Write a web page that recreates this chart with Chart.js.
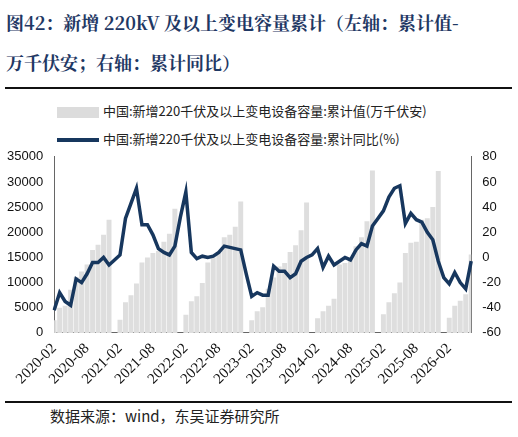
<!DOCTYPE html>
<html><head><meta charset="utf-8">
<script src="https://cdn.jsdelivr.net/npm/chart.js@4/dist/chart.umd.min.js"></script>
<style>
body{margin:0;width:518px;height:437px;background:#fff;position:relative;overflow:hidden;font-family:"Noto Sans CJK SC",serif}
#title{position:absolute;left:6px;top:2px;width:510px;font-size:18px;font-weight:bold;color:#1f3864;line-height:40px;font-family:"Noto Serif CJK SC","Noto Sans CJK SC",serif}
.rule{position:absolute;left:5px;width:507px;height:2px;background:#111}
#legend{position:absolute;left:57px;top:97px;font-size:13px;color:#222;line-height:28px;font-family:"Noto Sans CJK SC"}
.sw{display:inline-block;width:42px;vertical-align:middle;margin-right:4px}
#src{position:absolute;left:50px;top:405px;font-size:15px;color:#222}
#wrap{position:absolute;left:0;top:146px;width:518px;height:245px}
</style></head><body>
<div id="title">图42：新增 220kV 及以上变电容量累计（左轴：累计值-<br>万千伏安；右轴：累计同比）</div>
<div class="rule" style="top:87px"></div>
<div id="legend">
<div><span class="sw" style="height:11px;background:#dcdcdc"></span>中国:新增220千伏及以上变电设备容量:累计值(万千伏安)</div>
<div><span class="sw" style="height:4px;background:#17375e"></span>中国:新增220千伏及以上变电设备容量:累计同比(%)</div>
</div>
<div id="wrap"><canvas id="c" width="518" height="245"></canvas></div>
<div class="rule" style="top:401px"></div>
<div id="src">数据来源：wind，东吴证券研究所</div>
<script>
// months 2020-02 .. 2026-06
const months = [];
for (let y = 2020; y <= 2026; y++) for (let m = 1; m <= 12; m++) {
  if ((y === 2020 && m < 2) || (y === 2026 && m > 6)) continue;
  months.push(y + '-' + String(m).padStart(2, '0'));
}
// cumulative value, 万千伏安 (null = January, no release)
const cumValue = [
  2500, 5000, 5400, 8600, 11100, 12200, 13600, 16500, 17500, 19500, 22500, null,
  2600, 6100, 7500, 9800, 14000, 15000, 15900, 16300, 18100, 19700, 24700, null,
  3600, 6300, 7300, 9900, 14000, 15000, 15900, 19000, 19500, 21100, 26100, null,
  2500, 4300, 5100, 8800, 11000, 13200, 13900, 16100, 17400, 20400, 25900, null,
  2900, 4300, 5400, 6800, 13600, 13900, 14700, 17200, 19000, 22200, 32300, null,
  3700, 6100, 7900, 10000, 15900, 17900, 18100, 22500, 22800, 25000, 32200, null,
  3000, 5400, 6400, 7700, 15600
];
// cumulative yoy, %
const cumYoy = [
  -42, -28, -35, -38, -17, -20, -13, -4, -4, 0, -6, -2,
  2, 31, 43, 55, 26, 26, 18, 7, 4, 2, 9, 32,
  52, 4, -1, 1, 0, 1, 4, 9, 8, 7, 6, -13,
  -31, -28, -30, -30, -7, -11, -11, -16, -13, -3, 0, 2,
  7, -8, 1, -6, -3, 0, -2, 6, 11, 9, 25, 31,
  37, 48, 55, 57, 27, 35, 30, 28, 20, 14, -3, -16,
  -21, -12, -20, -25, -3
];

new Chart(document.getElementById('c'), {
  data: {
    labels: months,
    datasets: [{
      type: 'line', data: cumYoy, yAxisID: 'y1',
      borderColor: '#17375e', borderWidth: 3.5, pointRadius: 0, tension: 0, order: 0
    }, {
      type: 'bar', data: cumValue, yAxisID: 'y',
      backgroundColor: '#dedede', categoryPercentage: 1, barPercentage: 0.9, order: 1
    }]
  },
  options: {
    responsive: false, animation: false,
    layout: { padding: { left: 4, right: 14, top: 6 } },
    plugins: { legend: { display: false }, tooltip: { enabled: false } },
    scales: {
      x: {
        offset: false,
        grid: { display: false, drawTicks: true, tickLength: 4 },
        border: { color: '#666' },
        ticks: {
          autoSkip: false, maxRotation: 45, minRotation: 45, color: '#111',
          font: { family: 'Liberation Serif', size: 15 },
          callback: (v, i) => i % 6 === 0 ? months[i] : ''
        }
      },
      y: {
        position: 'left', min: 0, max: 35000,
        ticks: { stepSize: 5000, color: '#111', font: { family: 'Liberation Sans', size: 13 }, callback: v => String(v) },
        grid: { display: false }, border: { color: '#666' }
      },
      y1: {
        position: 'right', min: -60, max: 80,
        ticks: { stepSize: 20, color: '#111', font: { family: 'Liberation Sans', size: 13 } },
        grid: { display: false }, border: { color: '#666' }
      }
    }
  }
});
</script>
</body></html>
